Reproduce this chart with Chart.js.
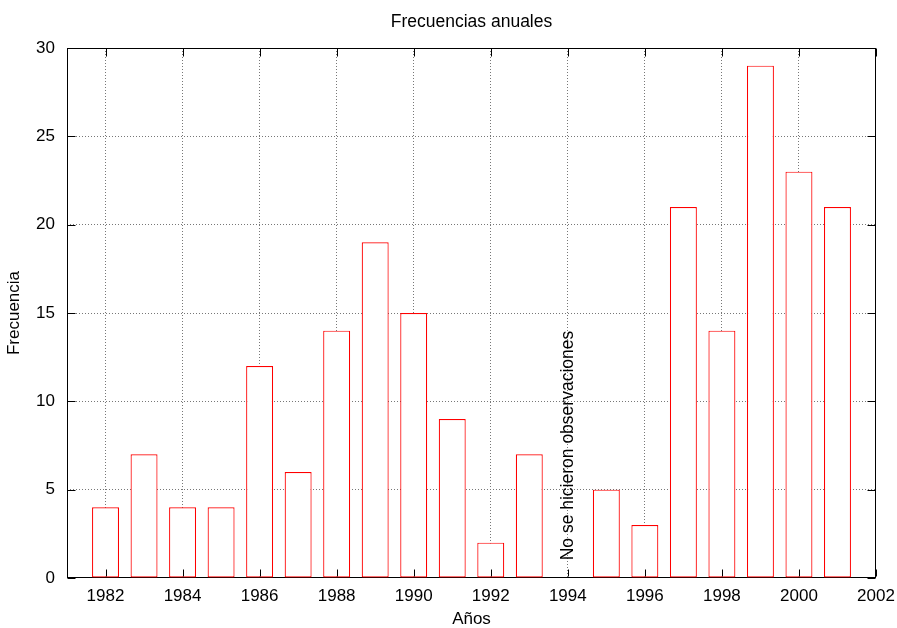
<!DOCTYPE html>
<html>
<head>
<meta charset="utf-8">
<title>Frecuencias anuales</title>
<script src="https://cdn.jsdelivr.net/npm/chart.js@4.4.0/dist/chart.umd.min.js"></script>
<style>
  html, body { margin: 0; padding: 0; background: #fff; }
</style>
</head>
<body>
<canvas id="myChart" width="897" height="628"></canvas>
<script>
// datos
const years = [1982, 1983, 1984, 1985, 1986, 1987, 1988, 1989, 1990, 1991, 1992, 1993,
               1995, 1996, 1997, 1998, 1999, 2000, 2001];
const freq  = [4, 7, 4, 4, 12, 6, 14, 19, 15, 9, 2, 7,
               5, 3, 21, 14, 29, 23, 21];
const xTicks = [1982, 1984, 1986, 1988, 1990, 1992, 1994, 1996, 1998, 2000, 2002];
const yTicks = [0, 5, 10, 15, 20, 25, 30];
const noteYear = 1994;
const noteValue = 1;
const noteText = "No se hicieron observaciones";

Chart.defaults.font.family = "'Liberation Sans', Arial, sans-serif";
Chart.defaults.font.size = 17;
Chart.defaults.color = "#000";

// marco, marcas de ticks hacia dentro y texto vertical
const marco = {
  id: "marco",
  afterLayout(chart) {
    // centrar el titulo sobre el area del grafico
    if (chart.titleBlock) {
      chart.titleBlock.left = chart.chartArea.left;
      chart.titleBlock.right = chart.chartArea.right;
    }
  },
  beforeDatasetsDraw(chart) {
    const c = chart.ctx;
    const a = chart.chartArea;
    const L = Math.round(a.left) + 0.5, R = Math.round(a.right) - 0.5;
    const T = Math.round(a.top) + 0.5, B = Math.round(a.bottom) - 0.5;
    c.save();
    c.strokeStyle = "#000";
    c.lineWidth = 1;
    c.strokeRect(L, T, R - L, B - T);
    c.restore();
  },
  afterDatasetsDraw(chart) {
    const c = chart.ctx;
    const a = chart.chartArea;
    const xs = chart.scales.x, ys = chart.scales.y;
    const L = Math.round(a.left) + 0.5, R = Math.round(a.right) - 0.5;
    const T = Math.round(a.top) + 0.5, B = Math.round(a.bottom) - 0.5;
    c.save();
    c.strokeStyle = "#000";
    c.lineWidth = 1;
    c.beginPath();
    xTicks.forEach(v => {
      const px = Math.round(xs.getPixelForValue(v)) + 0.5;
      c.moveTo(px, B - 1); c.lineTo(px, B - 8);
      c.moveTo(px, T); c.lineTo(px, T + 8);
    });
    yTicks.forEach(v => {
      const py = Math.round(ys.getPixelForValue(v)) + 0.5;
      c.moveTo(L, py); c.lineTo(L + 8, py);
      c.moveTo(R, py); c.lineTo(R - 8, py);
    });
    c.stroke();

    const px = xs.getPixelForValue(noteYear);
    const py = ys.getPixelForValue(noteValue);
    c.translate(px, py);
    c.rotate(-Math.PI / 2);
    c.font = "17.5px 'Liberation Sans', Arial, sans-serif";
    c.fillStyle = "#000";
    c.textAlign = "left";
    c.textBaseline = "middle";
    c.fillText(noteText, 0, 0);
    c.restore();
  }
};

const ctx = document.getElementById("myChart").getContext("2d");
const myChart = new Chart(ctx, {
  type: "bar",
  data: {
    datasets: [{
      label: "Frecuencia",
      data: years.map((y, i) => ({ x: y, y: freq[i] })),
      backgroundColor: "#ffffff",
      borderColor: "#ff0000",
      borderWidth: 1.2,
      borderSkipped: false,
      barPercentage: 0.7,
      categoryPercentage: 1
    }]
  },
  options: {
    responsive: false,
    animation: false,
    layout: { padding: { left: 0, right: 21, top: 0, bottom: 0 } },
    plugins: {
      legend: { display: false },
      tooltip: { enabled: false },
      title: {
        display: true,
        text: "Frecuencias anuales",
        color: "#000",
        font: { size: 17.5, weight: "normal" },
        padding: { top: 12, bottom: 15 }
      }
    },
    scales: {
      x: {
        type: "linear",
        offset: false,
        min: 1981,
        max: 2002,
        afterBuildTicks: s => { s.ticks = xTicks.map(v => ({ value: v })); },
        afterFit: s => { s.height = 50; s.paddingLeft = 0; s.paddingRight = 0; },
        ticks: { padding: 8, autoSkip: false, maxRotation: 0, callback: v => String(v) },
        grid: {
          offset: false,
          drawTicks: false,
          color: c => (c.tick && c.tick.value > 1981 && c.tick.value < 2002) ? "#777" : "rgba(0,0,0,0)"
        },
        border: { display: false, dash: [1, 2] },
        title: { display: true, text: "Años", padding: { top: 0, bottom: -2 } }
      },
      y: {
        min: 0,
        max: 30,
        afterBuildTicks: s => { s.ticks = yTicks.map(v => ({ value: v })); },
        afterFit: s => { s.width = 67; s.paddingTop = 0; s.paddingBottom = 0; },
        ticks: { padding: 12 },
        grid: {
          drawTicks: false,
          color: c => (c.tick && c.tick.value > 0 && c.tick.value < 30) ? "#777" : "rgba(0,0,0,0)"
        },
        border: { display: false, dash: [1, 2] },
        title: { display: true, text: "Frecuencia", padding: { top: 4, bottom: 0 } }
      }
    }
  },
  plugins: [marco]
});
</script>
</body>
</html>
